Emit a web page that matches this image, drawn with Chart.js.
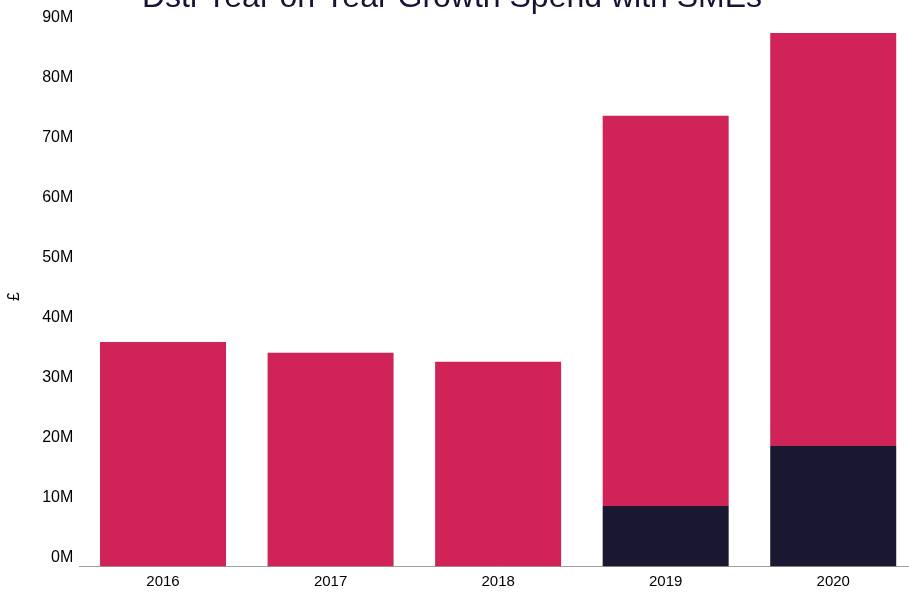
<!DOCTYPE html>
<html>
<head>
<meta charset="utf-8">
<script src="https://cdn.jsdelivr.net/npm/chart.js@4.4.1/dist/chart.umd.min.js"></script>
<style>
  html, body { margin: 0; padding: 0; background: #ffffff; overflow: hidden; width: 909px; height: 592px; }
  #wrap { position: absolute; left: -13px; top: -21px; width: 930px; height: 613px; }
</style>
</head>
<body>
<div id="wrap"><canvas id="c" width="930" height="613"></canvas></div>
<script>
const categories = ['2016', '2017', '2018', '2019', '2020'];
const darkSeries = [0, 0, 0, 10.1e6, 20.1e6];
const pinkSeries = [37.4e6, 35.6e6, 34.1e6, 65.0e6, 68.8e6];
const yTicks = [0, 10e6, 20e6, 30e6, 40e6, 50e6, 60e6, 70e6, 80e6, 90e6];
const titleText = 'Dsti Year on Year Growth Spend with SMEs';
const yTitle = '£';

const FONT = "Arial, 'Liberation Sans', sans-serif";

new Chart(document.getElementById('c'), {
  type: 'bar',
  data: {
    labels: categories,
    datasets: [
      { label: 'Indirect', data: darkSeries, backgroundColor: '#1a1830', borderWidth: 0 },
      { label: 'Direct', data: pinkSeries, backgroundColor: '#d02358', borderWidth: 0 }
    ]
  },
  options: {
    responsive: false,
    animation: false,
    layout: { padding: 0 },
    datasets: { bar: { categoryPercentage: 1.0, barPercentage: 0.752 } },
    plugins: {
      legend: { display: false },
      tooltip: { enabled: false },
      title: {
        display: true,
        text: titleText,
        color: '#1b1035',
        font: { family: FONT, size: 32, weight: 'normal' },
        padding: { top: 0, bottom: 9 }
      }
    },
    scales: {
      x: {
        stacked: true,
        grid: { display: false, drawTicks: false },
        border: { display: true, color: '#a0a0a0', width: 1 },
        ticks: { color: '#000', font: { family: FONT, size: 15 }, padding: 6 },
        afterFit: (axis) => { axis.height = 25.5; }
      },
      y: {
        stacked: true,
        min: 0,
        max: 90e6,
        grid: { display: false, drawTicks: false },
        border: { display: false },
        afterBuildTicks: (axis) => { axis.ticks = yTicks.map(v => ({ value: v })); },
        ticks: {
          color: '#000',
          font: { family: FONT, size: 16 },
          padding: 6,
          labelOffset: -9,
          callback: (v) => (v / 1e6) + 'M'
        },
        title: {
          display: true,
          text: yTitle,
          color: '#000',
          font: { family: FONT, size: 16 },
          padding: { top: 18, bottom: 0 }
        },
        afterFit: (axis) => { axis.width = 92.25; }
      }
    }
  }
});
</script>
</body>
</html>
